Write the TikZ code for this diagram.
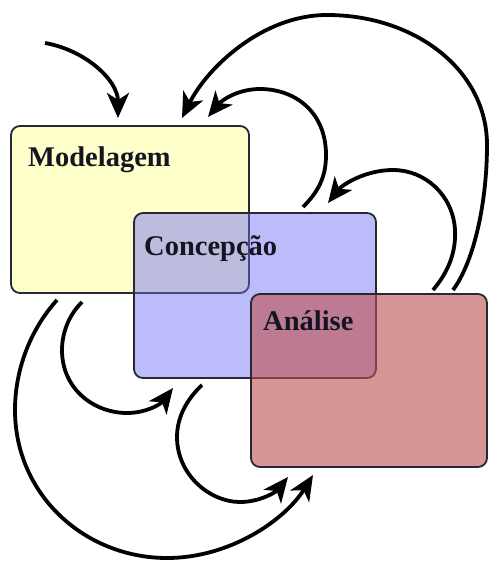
\documentclass[tikz,border=0pt]{standalone}
\usepackage{fontspec}
\setmainfont{Liberation Serif}
\usetikzlibrary{arrows.meta}
\definecolor{yelfill}{RGB}{255,255,204}
\definecolor{bluefill}{RGB}{107,107,244}
\definecolor{redfill}{RGB}{188,80,80}
\definecolor{boxline}{RGB}{40,40,50}
\definecolor{labeltext}{RGB}{20,20,35}
\begin{document}
\begin{tikzpicture}[x=1pt,y=-1pt,
  box/.style={draw=boxline, line width=1.8pt, rounded corners=9pt, inner sep=0pt},
  lbl/.style={anchor=base west, font=\fontsize{28.5}{30}\selectfont\bfseries, text=labeltext, inner sep=0pt},
  flow/.style={line width=3.8pt, -{Stealth[length=25pt,width=22pt,inset=7pt]}}]
\useasboundingbox (0,0) rectangle (489,561);
% boxes
\node[box, fill=yelfill, minimum width=238pt, minimum height=167pt] (mod) at (130,209.5) {};
\node[box, fill=bluefill, fill opacity=0.45, minimum width=242pt, minimum height=165pt] (con) at (255,295.5) {};
\node[box, fill=redfill, fill opacity=0.6, minimum width=236pt, minimum height=173pt] (ana) at (369,380.5) {};
% labels
\node[lbl] (modl) at (28,167) {Modelagem};
\node[lbl] (conl) at (144,255) {Concepção};
\node[lbl] (anal) at (263,330) {Análise};
% connector end points
\coordinate (in0) at (45,43);
\coordinate (modt1) at (118,118);
\coordinate (modt2) at (182,118);
\coordinate (modt3) at (208,117);
\coordinate (cont1) at (303,207);
\coordinate (cont2) at (328,203);
\coordinate (anat1) at (433,290);
\coordinate (anat2) at (453,290);
\coordinate (modb1) at (82,302);
\coordinate (modb2) at (57,300);
\coordinate (conb1) at (173,388);
\coordinate (conb2) at (202,385);
\coordinate (anab1) at (288,477);
\coordinate (anab2) at (313,475);
% connectors
\draw[flow] (in0) .. controls (85,50) and (118,80) .. (modt1);
\draw[flow] (anat2) .. controls (475,260) and (487,200) .. (487,145)
  .. controls (487,70) and (415,15) .. (327,15)
  .. controls (262,15) and (207,68) .. (modt2);
\draw[flow] (cont1) .. controls (320,190) and (326,175) .. (326,155)
  .. controls (326,112) and (295,89) .. (260,89)
  .. controls (238,89) and (222,100) .. (modt3);
\draw[flow] (anat1) .. controls (450,270) and (456,250) .. (455,230)
  .. controls (453,195) and (425,170) .. (393,170)
  .. controls (365,170) and (342,185) .. (cont2);
\draw[flow] (modb1) .. controls (68,316) and (62,334) .. (62,350)
  .. controls (62,390) and (95,413) .. (127,413)
  .. controls (145,413) and (160,405) .. (conb1);
\draw[flow] (conb2) .. controls (186,400) and (177,418) .. (177,437)
  .. controls (177,475) and (210,502) .. (240,502)
  .. controls (260,502) and (276,492) .. (anab1);
\draw[flow] (modb2) .. controls (30,330) and (15,370) .. (15,410)
  .. controls (15,495) and (85,558) .. (167,558)
  .. controls (230,558) and (285,520) .. (anab2);
\end{tikzpicture}
\end{document}
